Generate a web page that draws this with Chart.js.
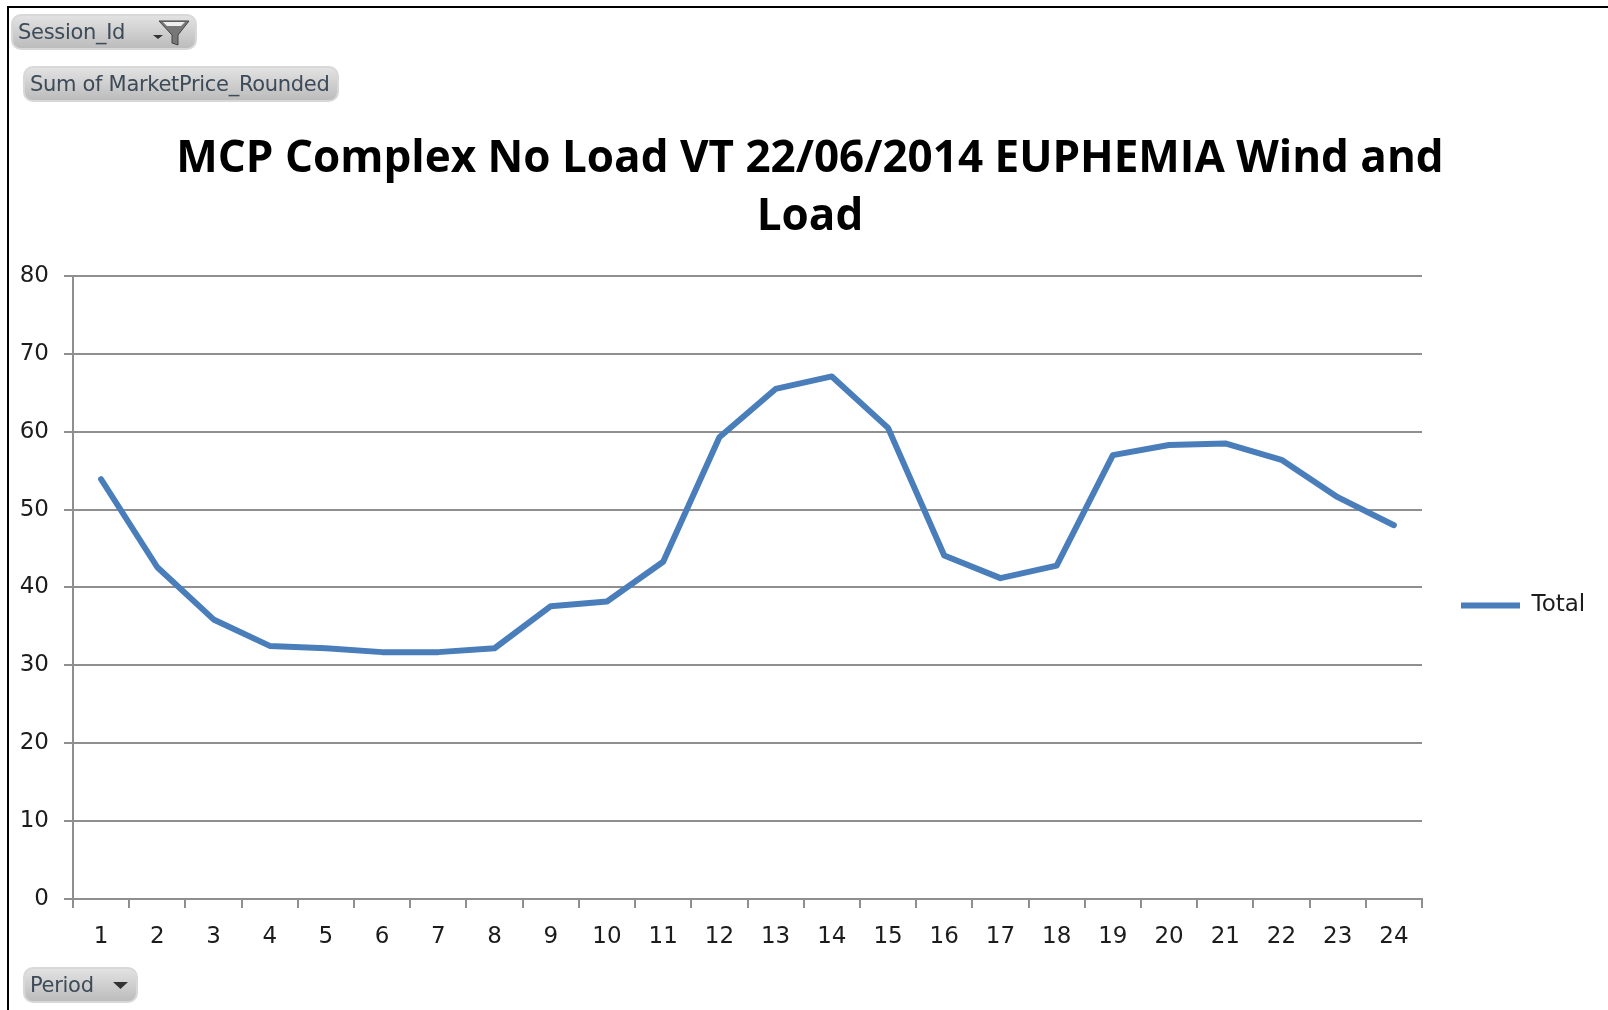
<!DOCTYPE html>
<html>
<head>
<meta charset="utf-8">
<script src="https://cdn.jsdelivr.net/npm/chart.js@4"></script>
<style>
html,body{margin:0;padding:0;background:#fff;width:1608px;height:1010px;overflow:hidden}
#c{position:absolute;left:0;top:0}
.edge{position:absolute;background:#000}
.pill{position:absolute;box-sizing:border-box;height:36px;border:2px solid #d8d8d8;border-radius:10px;
background:linear-gradient(#e2e2e2,#bcbcbc);font:21px "DejaVu Sans",sans-serif;letter-spacing:-0.3px;color:#3d4a58;line-height:33px;padding-left:5px;white-space:nowrap}
.pill svg{position:absolute;top:0;left:0;overflow:visible}
</style>
</head>
<body>
<canvas id="c" width="1608" height="1010"></canvas>
<div class="edge" style="left:7px;top:6px;width:1601px;height:2px"></div>
<div class="edge" style="left:7px;top:6px;width:2px;height:1004px"></div>
<div class="pill" style="left:11px;top:14px;width:186px">Session_Id
  <svg width="186" height="36"><path d="M140 19h10l-5 4z" fill="#333"/><path d="M146 5h30l-11 14v10l-6-2v-8z" fill="#777" stroke="#444" stroke-width="1"/><path d="M150 6h22l-4 4h-14z" fill="#eee"/></svg>
</div>
<div class="pill" style="left:23px;top:66px;width:316px">Sum of MarketPrice_Rounded</div>
<div class="pill" style="left:23px;top:967px;width:115px">Period
  <svg width="115" height="36"><path d="M88 13h15l-7.500 7z" fill="#333"/></svg>
</div>
<script>
const periods = ["1","2","3","4","5","6","7","8","9","10","11","12","13","14","15","16","17","18","19","20","21","22","23","24"];
const totals = [53.9,42.6,35.9,32.5,32.2,31.7,31.7,32.2,37.6,38.2,43.3,59.3,65.5,67.1,60.5,44.1,41.2,42.8,57.0,58.3,58.5,56.4,51.6,48.0];
const seriesName = "Total";
const titleLines = ["MCP Complex No Load VT 22/06/2014 EUPHEMIA Wind and","Load"];
const gridColor = "#8f8f8f", textColor = "#1c1c1c", lineColor = "#4a7ebb";
const tickFont = {family:"'DejaVu Sans'", size:23};
const legendWidth = {id:"legendWidth", beforeLayout(chart){
  const lg = chart.legend;
  if (lg._patched) return;
  lg._patched = true;
  const fit = lg.fit;
  lg.fit = function(){ fit.call(this); this.width = 186; this.columnSizes[0].height -= 36; };
}};
new Chart(document.getElementById("c"), {
  type:"line",
  data:{labels:periods, datasets:[{label:seriesName, data:totals, borderColor:lineColor, backgroundColor:lineColor, borderWidth:6, borderCapStyle:"round", borderJoinStyle:"round", pointRadius:0, tension:0, fill:false}]},
  plugins:[legendWidth],
  options:{
    responsive:false, animation:false, devicePixelRatio:1,
    layout:{padding:{left:12,right:0,top:0,bottom:0}},
    plugins:{
      tooltip:{enabled:false},
      title:{display:true, text:titleLines, color:"#000", font:{family:"'Open Sans'",size:44,weight:"bold",lineHeight:1.318}, padding:{top:130,bottom:30}},
      legend:{position:"right", fullSize:false, labels:{usePointStyle:true, pointStyle:"line", pointStyleWidth:59, boxHeight:6, color:textColor, font:tickFont, padding:39}}
    },
    scales:{
      x:{offset:true, afterFit(s){s.height=111;}, grid:{offset:true, color:gridColor, lineWidth:2, drawOnChartArea:false, tickLength:9, tickColor:gridColor}, border:{color:gridColor,width:2}, ticks:{color:textColor,font:tickFont,padding:15,maxRotation:0,autoSkip:false}},
      y:{min:0,max:80, afterFit(s){s.width=61;}, grid:{color:gridColor, lineWidth:2, tickLength:9, tickColor:gridColor}, border:{color:gridColor,width:2}, ticks:{stepSize:10,color:textColor,font:tickFont,padding:15}}
    }
  }
});
</script>
</body>
</html>
